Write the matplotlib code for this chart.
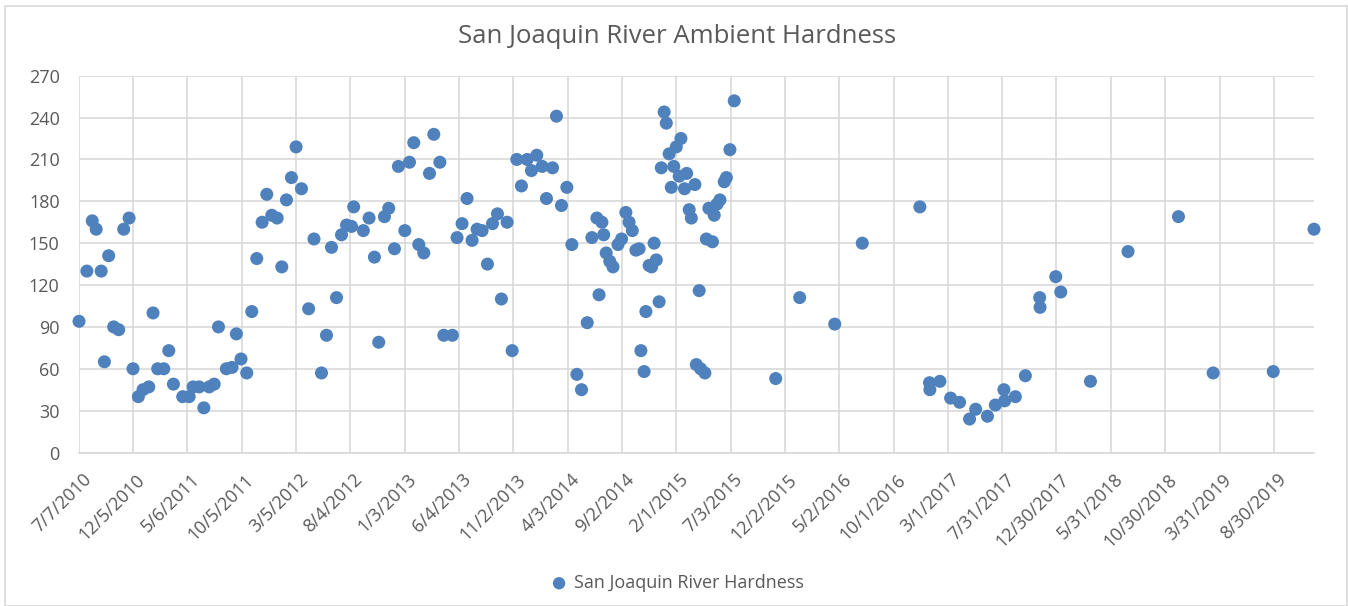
import matplotlib
matplotlib.use("Agg")
import matplotlib.pyplot as plt
import matplotlib.transforms as mtransforms
from matplotlib.patches import Rectangle
import pandas as pd

# sample dates and hardness values
dates = [
    "2010-07-07", "2010-07-29", "2010-08-13", "2010-08-24", "2010-09-07", "2010-09-16",
    "2010-09-28", "2010-10-12", "2010-10-26", "2010-11-09", "2010-11-24", "2010-12-05",
    "2010-12-20", "2011-01-02", "2011-01-18", "2011-01-30", "2011-02-12", "2011-03-01",
    "2011-03-15", "2011-03-28", "2011-04-23", "2011-05-11", "2011-05-22", "2011-06-08",
    "2011-06-21", "2011-07-06", "2011-07-20", "2011-08-01", "2011-08-23", "2011-09-08",
    "2011-09-20", "2011-10-03", "2011-10-19", "2011-11-02", "2011-11-16", "2011-12-01",
    "2011-12-14", "2011-12-28", "2012-01-12", "2012-01-25", "2012-02-07", "2012-02-21",
    "2012-03-05", "2012-03-20", "2012-04-09", "2012-04-24", "2012-05-15", "2012-05-29",
    "2012-06-12", "2012-06-26", "2012-07-10", "2012-07-24", "2012-08-07", "2012-08-13",
    "2012-09-09", "2012-09-25", "2012-10-10", "2012-10-22", "2012-11-07", "2012-11-19",
    "2012-12-05", "2012-12-16", "2013-01-03", "2013-01-16", "2013-01-28", "2013-02-11",
    "2013-02-25", "2013-03-13", "2013-03-25", "2013-04-11", "2013-04-22", "2013-05-16",
    "2013-05-29", "2013-06-12", "2013-06-26", "2013-07-10", "2013-07-24", "2013-08-07",
    "2013-08-22", "2013-09-05", "2013-09-19", "2013-09-30", "2013-10-16", "2013-10-30",
    "2013-11-12", "2013-11-25", "2013-12-11", "2013-12-23", "2014-01-07", "2014-01-22",
    "2014-02-03", "2014-02-20", "2014-03-03", "2014-03-17", "2014-04-01", "2014-04-15",
    "2014-04-29", "2014-05-12", "2014-05-28", "2014-06-10", "2014-06-24", "2014-06-30",
    "2014-07-08", "2014-07-13", "2014-07-20", "2014-07-30", "2014-08-08", "2014-08-22",
    "2014-09-01", "2014-09-13", "2014-09-22", "2014-10-01", "2014-10-11", "2014-10-20",
    "2014-10-25", "2014-11-03", "2014-11-08", "2014-11-17", "2014-11-24", "2014-12-01",
    "2014-12-07", "2014-12-15", "2014-12-21", "2014-12-29", "2015-01-04", "2015-01-12",
    "2015-01-18", "2015-01-25", "2015-02-01", "2015-02-09", "2015-02-14", "2015-02-24",
    "2015-03-02", "2015-03-09", "2015-03-15", "2015-03-25", "2015-03-29", "2015-04-06",
    "2015-04-10", "2015-04-22", "2015-04-26", "2015-05-03", "2015-05-13", "2015-05-18",
    "2015-05-26", "2015-06-03", "2015-06-15", "2015-06-21", "2015-07-01", "2015-07-13",
    "2015-11-06", "2016-01-12", "2016-04-19", "2016-07-05", "2016-12-13", "2017-01-09",
    "2017-01-10", "2017-02-07", "2017-03-09", "2017-04-03", "2017-05-01", "2017-05-18",
    "2017-06-20", "2017-07-12", "2017-08-05", "2017-08-07", "2017-09-06", "2017-10-04",
    "2017-11-13", "2017-11-14", "2017-12-28", "2018-01-11", "2018-04-04", "2018-07-18",
    "2018-12-06", "2019-03-13", "2019-08-28", "2019-12-20",
]
hardness = [
    94, 130, 166, 160, 130, 65,
    141, 90, 88, 160, 168, 60,
    40, 45, 47, 100, 60, 60,
    73, 49, 40, 40, 47, 47,
    32, 47, 49, 90, 60, 61,
    85, 67, 57, 101, 139, 165,
    185, 170, 168, 133, 181, 197,
    219, 189, 103, 153, 57, 84,
    147, 111, 156, 163, 162, 176,
    159, 168, 140, 79, 169, 175,
    146, 205, 159, 208, 222, 149,
    143, 200, 228, 208, 84, 84,
    154, 164, 182, 152, 160, 159,
    135, 164, 171, 110, 165, 73,
    210, 191, 210, 202, 213, 205,
    182, 204, 241, 177, 190, 149,
    56, 45, 93, 154, 168, 113,
    165, 156, 143, 137, 133, 149,
    153, 172, 165, 159, 145, 146,
    73, 58, 101, 134, 133, 150,
    138, 108, 204, 244, 236, 214,
    190, 205, 219, 198, 225, 189,
    200, 174, 168, 192, 63, 116,
    60, 57, 153, 175, 151, 170,
    178, 181, 194, 197, 217, 252,
    53, 111, 92, 150, 176, 50,
    45, 51, 39, 36, 24, 31,
    26, 34, 45, 37, 40, 55,
    111, 104, 126, 115, 51, 144,
    169, 57, 58, 160,
]
tick_labels = [
    "7/7/2010", "12/5/2010", "5/6/2011", "10/5/2011", "3/5/2012", "8/4/2012",
    "1/3/2013", "6/4/2013", "11/2/2013", "4/3/2014", "9/2/2014", "2/1/2015",
    "7/3/2015", "12/2/2015", "5/2/2016", "10/1/2016", "3/1/2017", "7/31/2017",
    "12/30/2017", "5/31/2018", "10/30/2018", "3/31/2019", "8/30/2019",
]
y_ticks = list(range(0, 271, 30))

plt.rcParams["font.family"] = ["Open Sans", "DejaVu Sans"]
text_color = "#595959"
grid_color = "#d9d9d9"
marker_color = "#4f81bd"

x = pd.to_datetime(dates)
ticks = pd.to_datetime(tick_labels, format="%m/%d/%Y")

fig = plt.figure(figsize=(13.48, 6.06), dpi=100)
fig.patches.append(Rectangle((5 / 1348, 0), 1342 / 1348, 600 / 606, transform=fig.transFigure,
                             fill=False, edgecolor="#d9d9d9", linewidth=1.2))
ax = fig.add_axes([79 / 1348, 1 - 452.5 / 606, (1314 - 79) / 1348, (452.5 - 75.7) / 606])

ax.scatter(x, hardness, s=88, color=marker_color, edgecolors="none", zorder=3,
           clip_on=False, label="San Joaquin River Hardness")

ax.set_xlim(x.min(), x.max())
ax.set_ylim(0, 270)
ax.set_yticks(y_ticks)
ax.set_xticks(ticks)
ax.set_xticklabels(tick_labels, rotation=45, ha="right", va="top", rotation_mode="anchor")

ax.grid(True, color=grid_color, linewidth=1.2)
ax.set_axisbelow(True)
for side in ["top", "right", "left"]:
    ax.spines[side].set_visible(False)
ax.spines["bottom"].set_color(grid_color)
ax.spines["bottom"].set_linewidth(1.2)
ax.tick_params(axis="both", length=0, labelsize=13, labelcolor=text_color)
ax.tick_params(axis="y", pad=14)
ax.tick_params(axis="x", pad=13)

# nudge slanted labels so their ends sit just right of the tick
shift = mtransforms.ScaledTranslation(0.03, 0, fig.dpi_scale_trans)
for lbl in ax.get_xticklabels():
    lbl.set_transform(lbl.get_transform() + shift)

fig.text(0.502, 0.939, "San Joaquin River Ambient Hardness", ha="center", va="center",
         fontsize=18.5, color=text_color)
fig.legend(loc="center", bbox_to_anchor=(0.499, 0.038), frameon=False, fontsize=13,
           labelcolor=text_color, handletextpad=-0.15, markerscale=0.95)

fig.savefig("out.png", dpi=100)
